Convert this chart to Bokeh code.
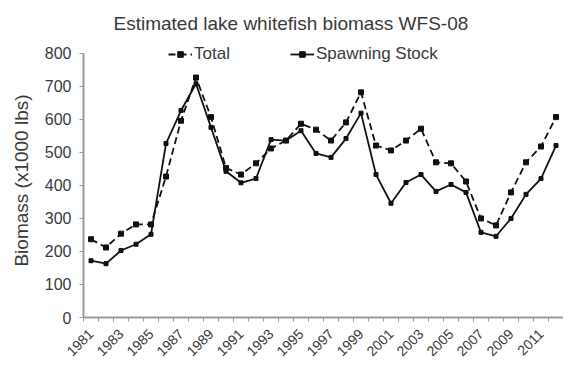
from bokeh.plotting import figure
from bokeh.models import FixedTicker, Legend, LegendItem, Range1d
from bokeh.embed import file_html
from bokeh.resources import INLINE
import math

years = list(range(1981, 2013))
total = [237, 212, 254, 282, 282, 427, 596, 727, 607, 453, 433, 467, 512, 536, 587,
         569, 536, 591, 682, 521, 506, 536, 572, 470, 467, 412, 300, 279, 379, 470,
         518, 607]
spawning = [172, 163, 203, 222, 252, 527, 627, 708, 576, 443, 408, 421, 539, 536, 566,
            497, 485, 542, 619, 433, 346, 409, 433, 382, 403, 379, 258, 246, 300, 373,
            421, 521]
y_ticks = [0, 100, 200, 300, 400, 500, 600, 700, 800]
label_years = list(range(1981, 2012, 2))

FONT = "Liberation Sans"
TXT = "#3a3a3a"
AX = "#9a9a9a"

p = figure(width=563, height=366, output_backend="svg", toolbar_location=None,
           x_range=Range1d(1980.5, 2012.5), y_range=Range1d(0, 830),
           min_border_left=83, min_border_right=0, min_border_top=43, min_border_bottom=49)
p.title.text = "Estimated lake whitefish biomass WFS-08"
p.title.text_font = FONT
p.title.text_font_size = "19px"
p.title.text_font_style = "normal"
p.title.text_color = TXT
p.title.align = "left"
p.title.offset = 30
p.title.standoff = 19

p.outline_line_color = None
p.grid.visible = False
p.background_fill_color = "white"
p.border_fill_color = "white"

r_total = p.line(years, total, line_color="#111111", line_width=1.8, line_dash="7 4")
m_total = p.scatter(years, total, marker="square", size=5, color="#111111")
r_sp = p.line(years, spawning, line_color="#111111", line_width=1.8)
m_sp = p.scatter(years, spawning, marker="square", size=4, color="#111111")

boundaries = [y - 0.5 for y in years] + [years[-1] + 0.5]
xa = p.xaxis[0]
xa.ticker = FixedTicker(ticks=years, minor_ticks=boundaries)
xa.major_label_overrides = {y: (str(y) if y in label_years else "") for y in years}
xa.major_label_orientation = math.pi / 4
xa.major_label_text_font = FONT
xa.major_label_text_font_size = "14px"
xa.major_label_text_color = TXT
xa.axis_line_color = AX
xa.axis_line_width = 2
xa.major_tick_line_color = None
xa.minor_tick_line_color = AX
xa.minor_tick_in = 0
xa.minor_tick_out = 4
xa.major_tick_in = 0
xa.major_tick_out = 4
xa.major_label_standoff = 10

ya = p.yaxis[0]
ya.ticker = FixedTicker(ticks=y_ticks)
ya.bounds = (0, 800)
ya.major_label_text_font = FONT
ya.major_label_text_font_size = "16px"
ya.major_label_text_color = TXT
ya.axis_line_color = AX
ya.axis_line_width = 2
ya.major_tick_line_color = AX
ya.major_tick_in = 0
ya.major_tick_out = 4
ya.minor_tick_line_color = None
ya.major_label_standoff = 8
ya.axis_label = "Biomass (x1000 lbs)"
ya.axis_label_text_font = FONT
ya.axis_label_text_font_size = "19px"
ya.axis_label_text_font_style = "normal"
ya.axis_label_text_color = TXT
ya.axis_label_standoff = 10

legend = Legend(items=[LegendItem(label="Total", renderers=[r_total, m_total]),
                       LegendItem(label="Spawning Stock", renderers=[r_sp, m_sp])],
                orientation="horizontal", location=(85, 253),
                label_text_font=FONT, label_text_font_size="17px", label_text_color=TXT,
                glyph_width=24, glyph_height=14, label_standoff=2, spacing=60,
                padding=0, margin=0, border_line_color=None, background_fill_alpha=0)
p.add_layout(legend, "center")

open("out.html", "w").write(file_html(p, INLINE))
